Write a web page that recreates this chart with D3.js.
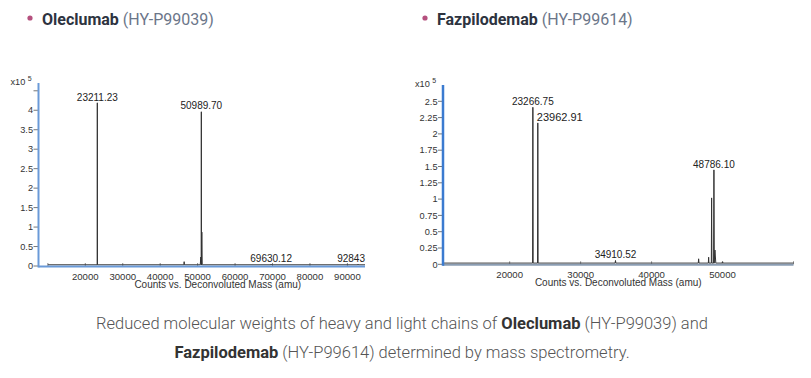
<!DOCTYPE html>
<html><head><meta charset="utf-8">
<script src="https://cdn.jsdelivr.net/npm/d3@7"></script>
<style>
html,body{margin:0;padding:0;background:#fff;}
svg{display:block;}
</style></head>
<body>
<svg id="c" width="811" height="378"></svg>
<script>
// ---------- data ----------
const titles = [
  {name: "Oleclumab", code: " (HY-P99039)"},
  {name: "Fazpilodemab", code: " (HY-P99614)"}
];
// left spectrum (Oleclumab), intensity in x10^5 counts
const leftMass   = [23211.23, 46400, 50850, 50989.70, 51120, 69630.12, 92843];
const leftInt    = [4.16,     0.08,  0.20,  3.93,     0.84,  0.02,     0.02];
const leftLabels = ["23211.23", null, null, "50989.70", null, "69630.12", "92843"];
const leftYTicks = [0, 0.5, 1, 1.5, 2, 2.5, 3, 3.5, 4, 4.5];
const leftXTicks = [10000, 20000, 30000, 40000, 50000, 60000, 70000, 80000, 90000];
// right spectrum (Fazpilodemab)
const rightMass   = [23266.75, 23962.91, 34910.52, 46630, 48040, 48460, 48786.10, 48930, 50000];
const rightInt    = [2.39,     2.15,     0.04,     0.066, 0.09,  1.00,  1.43,     0.20,  0.02];
const rightLabels = ["23266.75", "23962.91", "34910.52", null, null, null, "48786.10", null, null];
const rightYTicks = [0, 0.25, 0.5, 0.75, 1, 1.25, 1.5, 1.75, 2, 2.25, 2.5];
const rightXTicks = [20000, 30000, 40000, 50000, 60000];
const caption1 = ["Reduced molecular weights of heavy and light chains of ", "Oleclumab", " (HY-P99039) and"];
const caption2 = ["Fazpilodemab", " (HY-P99614) determined by mass spectrometry."];

const svg = d3.select("#c");
const chartFont = "'Liberation Sans', Arial, sans-serif";

// ---------- headings ----------
function heading(x, t) {
  svg.append("circle").attr("cx", x).attr("cy", 18).attr("r", 2.6).attr("fill", "#b5507e");
  const tx = svg.append("text").attr("x", x + 12).attr("y", 25)
    .attr("font-family", "Roboto, sans-serif").attr("font-size", 16);
  tx.append("tspan").attr("font-weight", 700).attr("fill", "#2d3340").text(t.name);
  tx.append("tspan").attr("fill", "#6b7689").text(t.code);
}
heading(30, titles[0]);
heading(425, titles[1]);

// ---------- chart ----------
function chart(o) {
  const g = svg.append("g");
  const x = d3.scaleLinear().domain(o.xDom).range([o.x0, o.x1]);
  const y = d3.scaleLinear().domain(o.yDom).range([o.y0, o.yTop]);

  // y ticks
  o.yTicks.forEach(v => {
    g.append("line").attr("x1", o.x0 - 5).attr("x2", o.x0).attr("y1", y(v)).attr("y2", y(v))
      .attr("stroke", "#777").attr("stroke-width", 1);
    if (v <= o.yMaxLabel)
      g.append("text").attr("x", o.x0 - 5.5).attr("y", y(v) + 3.2).attr("text-anchor", "end")
        .attr("font-family", chartFont).attr("font-size", 9.2).attr("fill", "#333")
        .text(d3.format("~g")(v));
  });
  // x ticks
  o.xTicks.forEach(v => {
    g.append("line").attr("x1", x(v)).attr("x2", x(v)).attr("y1", o.y0 - 3).attr("y2", o.y0)
      .attr("stroke", "#888").attr("stroke-width", 1);
    if (v >= o.xMinLabel && v <= o.xMaxLabel)
      g.append("text").attr("x", x(v)).attr("y", o.y0 + 13.8).attr("text-anchor", "middle")
        .attr("font-family", chartFont).attr("font-size", 9.6).attr("fill", "#333")
        .text(v);
  });
  // axis title
  g.append("text").attr("x", (o.x0 + o.x1) / 2 + o.titleDx).attr("y", o.y0 + 22).attr("text-anchor", "middle")
    .attr("font-family", chartFont).attr("font-size", 10).attr("fill", "#333")
    .text("Counts vs. Deconvoluted Mass (amu)");
  // x10^5
  const e = g.append("text").attr("x", o.x0 - 28).attr("y", o.yTop + 2)
    .attr("font-family", chartFont).attr("font-size", 9.2).attr("fill", "#333");
  e.append("tspan").text("x10");
  e.append("tspan").attr("dx", 2.5).attr("dy", -4).attr("font-size", 7).text("5");

  // spectrum
  const pts = [[o.specStart, 0]];
  o.mass.forEach((m, i) => {
    const w = o.widths[i];
    pts.push([m - w, 0], [m, o.inten[i]], [m + w, 0]);
  });
  pts.push([o.xDom[1], 0]);
  const line = d3.line().x(d => x(d[0])).y(d => y(d[1]) - 1.2);
  g.append("path").attr("d", line(pts)).attr("fill", "none")
    .attr("stroke", "#333").attr("stroke-width", 1);

  // axes lines
  g.append("line").attr("x1", o.x0).attr("x2", o.x1).attr("y1", o.y0 + 0.5).attr("y2", o.y0 + 0.5)
    .attr("stroke", o.xAxisColor).attr("stroke-width", 2);
  g.append("line").attr("x1", o.x0).attr("x2", o.x0).attr("y1", o.yTop).attr("y2", o.y0 + 1.5)
    .attr("stroke", o.yAxisColor).attr("stroke-width", o.yAxisW);

  // peak labels
  o.labels.forEach((lab, i) => {
    if (!lab) return;
    const a = o.labelAnchor[i] || "middle";
    let px = x(o.mass[i]);
    let ty = y(o.inten[i]) - 3.5;
    const t = g.append("text").attr("y", ty)
      .attr("font-family", chartFont).attr("font-size", o.labelSize[i] || 10).attr("fill", "#222")
      .attr("text-anchor", a).text(lab);
    if (a === "start") t.attr("x", px - 1);
    else if (a === "end") t.attr("x", Math.min(px + 14, o.x1));
    else t.attr("x", px);
  });
}

chart({
  xDom: [7500, 94700], yDom: [0, 4.7], x0: 38.5, x1: 365, y0: 266, yTop: 83,
  yTicks: leftYTicks, yMaxLabel: 4, xTicks: leftXTicks, xMinLabel: 20000, xMaxLabel: 90000,
  mass: leftMass, inten: leftInt, labels: leftLabels,
  widths: [40, 60, 150, 40, 110, 60, 60],
  labelAnchor: [null, null, null, null, null, null, "end"], labelSize: [],
  specStart: 10000, titleDx: 16,
  xAxisColor: "#6a9ad8", yAxisColor: "#6a9ad8", yAxisW: 2
});
chart({
  xDom: [10600, 60000], yDom: [0, 2.75], x0: 443, x1: 793.5, y0: 264.3, yTop: 85,
  yTicks: rightYTicks, yMaxLabel: 2.5, xTicks: rightXTicks, xMinLabel: 20000, xMaxLabel: 50000,
  mass: rightMass, inten: rightInt, labels: rightLabels,
  widths: [40, 40, 50, 50, 40, 40, 50, 120, 80],
  labelAnchor: [null, "start", null, null, null, null, null, null, null], labelSize: [null, 11],
  specStart: 10600, titleDx: 0,
  xAxisColor: "#8a9db3", yAxisColor: "#3b7bd0", yAxisW: 2.5
});

// ---------- caption ----------
function capLine(parts, yy, boldIdx) {
  const t = svg.append("text").attr("x", 402).attr("y", yy).attr("text-anchor", "middle")
    .attr("font-family", "Roboto, sans-serif").attr("font-size", 16.5);
  parts.forEach((p, i) => {
    const s = t.append("tspan").text(p);
    if (i === boldIdx) s.attr("font-weight", 700).attr("fill", "#333");
    else s.attr("font-weight", 300).attr("fill", "#555");
  });
}
capLine(caption1, 329, 1);
capLine(caption2, 358, 0);
</script>
</body></html>
